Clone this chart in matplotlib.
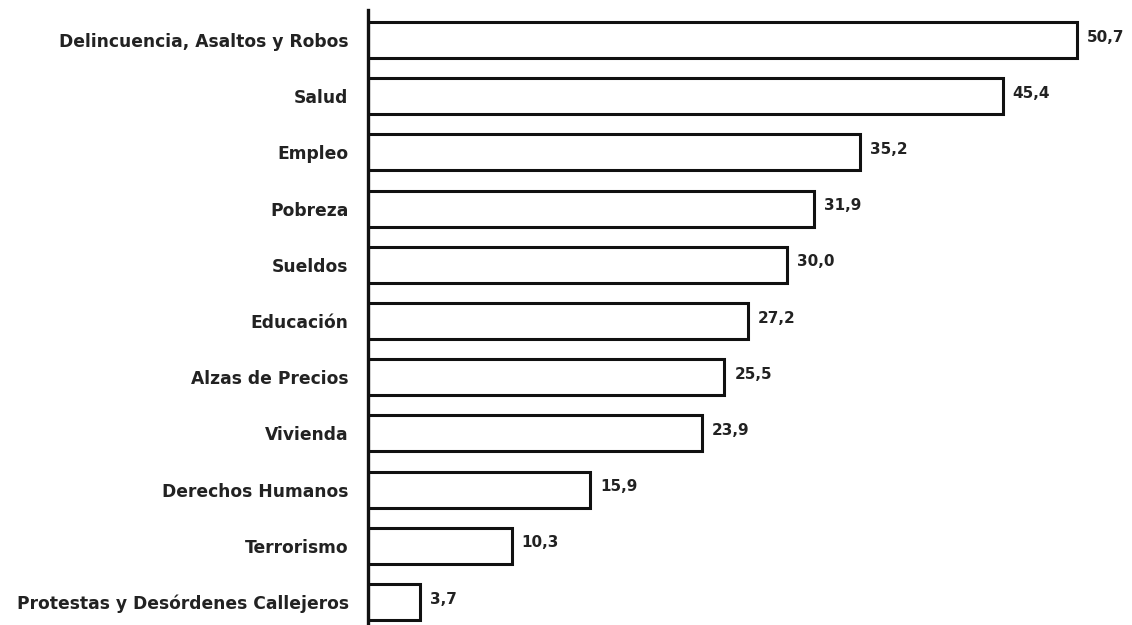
import matplotlib
matplotlib.use("Agg")
import matplotlib.pyplot as plt

categories = [
    "Delincuencia, Asaltos y Robos",
    "Salud",
    "Empleo",
    "Pobreza",
    "Sueldos",
    "Educación",
    "Alzas de Precios",
    "Vivienda",
    "Derechos Humanos",
    "Terrorismo",
    "Protestas y Desórdenes Callejeros",
]
values = [50.7, 45.4, 35.2, 31.9, 30.0, 27.2, 25.5, 23.9, 15.9, 10.3, 3.7]
value_labels = ["50,7", "45,4", "35,2", "31,9", "30,0", "27,2", "25,5", "23,9", "15,9", "10,3", "3,7"]

plt.rcParams['font.family'] = ['DejaVu Sans']

fig = plt.figure(figsize=(11.32, 6.25), dpi=100)
ax = fig.add_axes([368 / 1132, 0.0, 1 - 368 / 1132, 1 - 10 / 625])

pos = list(range(len(categories)))
ax.barh(pos, values, height=0.64, color="white", edgecolor="#111111", linewidth=2.2)

for p, v, lab in zip(pos, values, value_labels):
    ax.text(v + 0.7, p - 0.05, lab, va="center", ha="left", fontsize=11,
            fontweight="bold", color="#222222")

ax.set_yticks(pos)
ax.set_yticklabels(categories, fontsize=12.3, fontweight="bold", color="#222222")
ax.tick_params(axis="y", length=0, pad=14)
ax.set_xticks([])
ax.set_xlim(0, (1132 - 368) / 13.98)
ax.set_ylim(10.41, -0.534)

for s in ["top", "right", "bottom"]:
    ax.spines[s].set_visible(False)
ax.spines["left"].set_linewidth(2.4)
ax.spines["left"].set_color("#111111")

fig.savefig("out.png", dpi=100)
